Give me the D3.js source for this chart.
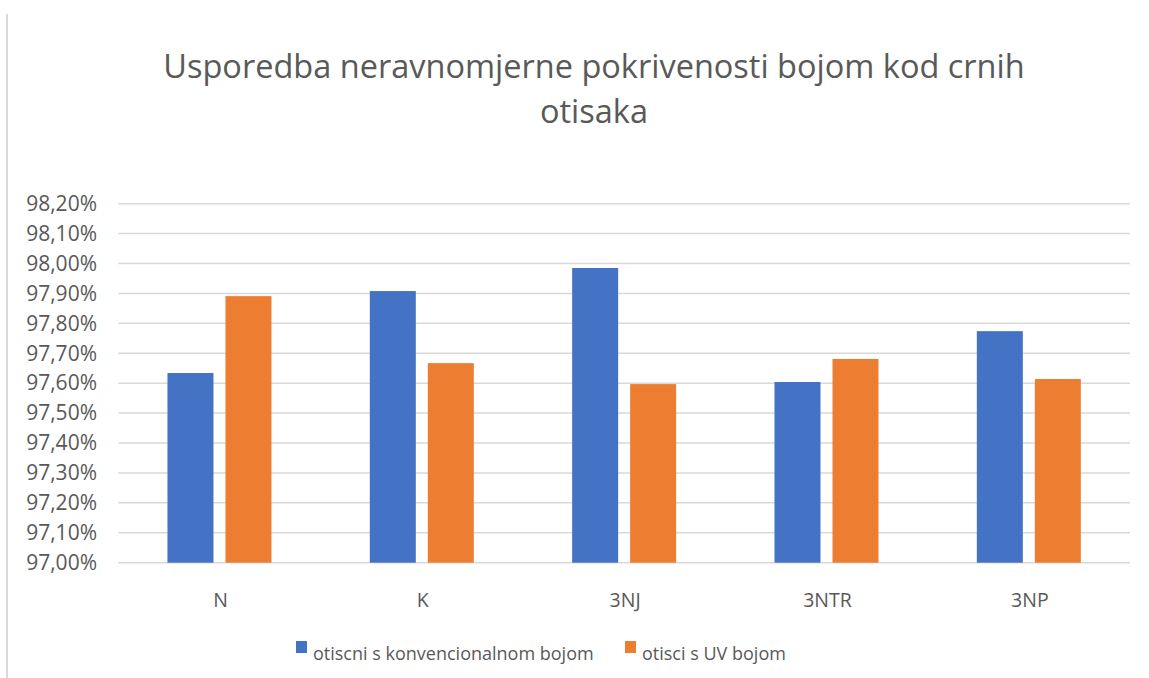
<!DOCTYPE html>
<html>
<head>
<meta charset="utf-8">
<script src="https://cdn.jsdelivr.net/npm/d3@7"></script>
<style>
  body { margin: 0; background: #fff; }
  text { font-family: "Open Sans", sans-serif; fill: #595959; }
</style>
</head>
<body>
<div id="chart"></div>
<script>
var categories = ["N", "K", "3NJ", "3NTR", "3NP"];
var seriesNames = ["otiscni s konvencionalnom bojom", "otisci s UV bojom"];
var conventional = [0.97634, 0.97908, 0.97985, 0.97604, 0.97774];
var uv = [0.97891, 0.97667, 0.97597, 0.97681, 0.97614];
var yTicks = [0.970, 0.971, 0.972, 0.973, 0.974, 0.975, 0.976, 0.977, 0.978, 0.979, 0.980, 0.981, 0.982];
var titleLines = ["Usporedba neravnomjerne pokrivenosti bojom kod crnih", "otisaka"];
var colors = ["#4472C4", "#ED7D31"];

var width = 1149, height = 678;
var plot = {left: 118.3, right: 1130, top: 203.7, bottom: 562.7};

var svg = d3.select("#chart").append("svg")
    .attr("width", width)
    .attr("height", height);

// chart frame edge on the left
svg.append("line")
    .attr("x1", 7).attr("x2", 7)
    .attr("y1", 14).attr("y2", 678)
    .attr("stroke", "#d9d9d9")
    .attr("stroke-width", 2);

// title
svg.selectAll(".title")
    .data(titleLines)
    .enter().append("text")
    .attr("class", "title")
    .attr("x", 594)
    .attr("y", function(d, i) { return 78 + i * 45; })
    .attr("text-anchor", "middle")
    .attr("font-size", 32.5)
    .text(function(d) { return d; });

var y = d3.scaleLinear()
    .domain([0.970, 0.982])
    .range([plot.bottom, plot.top]);

var x = d3.scaleBand()
    .domain(categories)
    .range([plot.left, plot.right]);

var groupWidth = 104;
var xs = d3.scaleBand()
    .domain([0, 1])
    .range([0, groupWidth])
    .paddingInner(0.207);

var fmt = function(v) { return (v * 100).toFixed(2).replace(".", ",") + "%"; };

// gridlines
svg.append("g")
    .selectAll("line")
    .data(yTicks)
    .enter().append("line")
    .attr("x1", plot.left).attr("x2", plot.right)
    .attr("y1", function(d) { return y(d); })
    .attr("y2", function(d) { return y(d); })
    .attr("stroke", "#d9d9d9")
    .attr("stroke-width", 1.5);

// y axis labels
var yAxis = d3.axisLeft(y)
    .tickValues(yTicks)
    .tickFormat(fmt)
    .tickSize(0)
    .tickPadding(0);

var gy = svg.append("g")
    .attr("transform", "translate(97,0)")
    .call(yAxis);
gy.select(".domain").remove();
gy.selectAll("text")
    .attr("font-size", 21)
    .attr("fill", "#595959")
    .style("font-family", "'Open Sans', sans-serif");

// bars
var table = categories.map(function(c, i) {
    return {cat: c, values: [conventional[i], uv[i]]};
});

var groups = svg.append("g")
    .selectAll("g")
    .data(table)
    .enter().append("g")
    .attr("transform", function(d) {
        return "translate(" + (x(d.cat) + (x.bandwidth() - groupWidth) / 2) + ",0)";
    });

groups.selectAll("rect")
    .data(function(d) { return d.values; })
    .enter().append("rect")
    .attr("x", function(d, i) { return xs(i); })
    .attr("width", xs.bandwidth())
    .attr("y", function(d) { return y(d); })
    .attr("height", function(d) { return y(0.970) - y(d); })
    .attr("fill", function(d, i) { return colors[i]; });

// x axis labels
var xAxis = d3.axisBottom(x).tickSize(0).tickPadding(0);
var gx = svg.append("g")
    .attr("transform", "translate(1,593)")
    .call(xAxis);
gx.select(".domain").remove();
gx.selectAll("text")
    .attr("font-size", 19.5)
    .attr("fill", "#595959")
    .style("font-family", "'Open Sans', sans-serif");

// legend
var legendX = [296, 625];
var legend = svg.append("g")
    .selectAll("g")
    .data(seriesNames)
    .enter().append("g")
    .attr("transform", function(d, i) { return "translate(" + legendX[i] + ",641)"; });

legend.append("rect")
    .attr("width", 11)
    .attr("height", 12)
    .attr("fill", function(d, i) { return colors[i]; });

legend.append("text")
    .attr("x", 17)
    .attr("y", 19)
    .attr("font-size", 18)
    .text(function(d) { return d; });
</script>
</body>
</html>
